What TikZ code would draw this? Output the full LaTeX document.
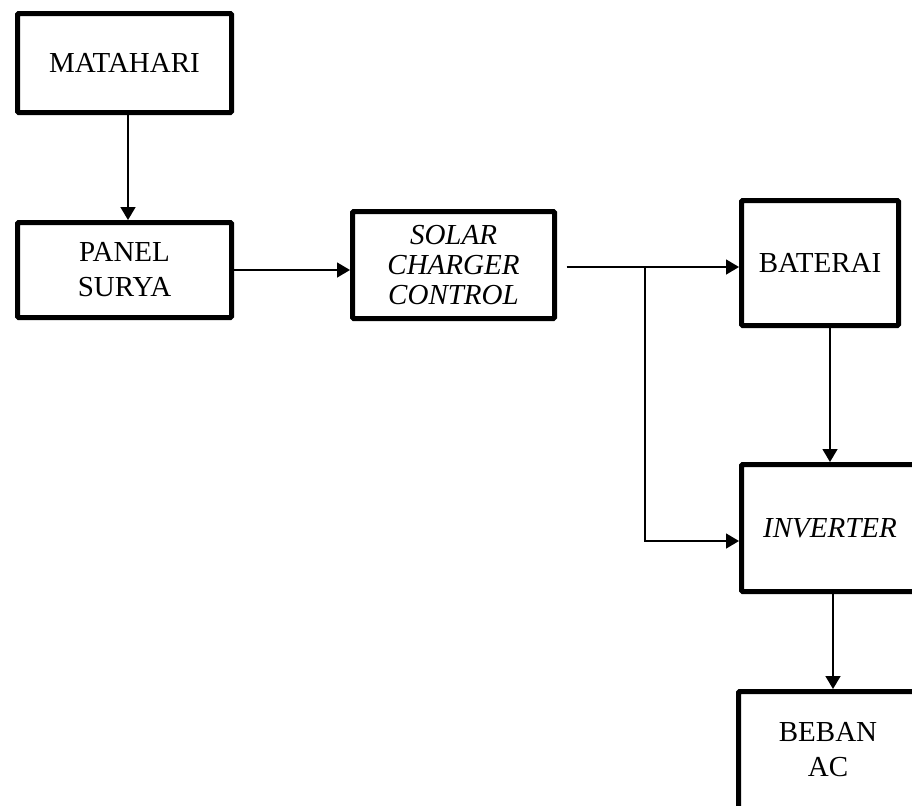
\documentclass[tikz,border=0pt]{standalone}
\usepackage{fontspec}
\setmainfont{Liberation Serif}
\usetikzlibrary{arrows.meta,positioning}

\begin{document}
\begin{tikzpicture}[x=0.5pt, y=-0.5pt,
      blok/.style={draw, line width=2.5pt, rounded corners=0.6pt, align=center,
                   inner sep=0pt, font=\fontsize{14.5}{17.5}\selectfont},
      arr/.style={-{Triangle[length=6.5pt, width=7.5pt]}, line width=0.75pt},
      lin/.style={line width=0.75pt}]
    \useasboundingbox (0,0) rectangle (912,805);
    \clip (0,0) rectangle (912,805);
    % left column
    \node[blok, minimum width=107pt, minimum height=49.5pt] (sun) at (124.5,63) {MATAHARI};
    \node[blok, minimum width=107pt, minimum height=47.5pt] (panel) at (124.5,270) {PANEL\\SURYA};
    \node[blok, minimum width=101pt, minimum height=53.5pt,
          font=\fontsize{14.5}{15}\selectfont\itshape] (scc) at (453.5,265)
      {SOLAR\\CHARGER\\CONTROL};
    % right column
    \node[blok, minimum width=78.5pt, minimum height=62.5pt] (bat) at (820,263) {BATERAI};
    \node[blok, minimum width=88.5pt, minimum height=63.5pt] (inv) at (830,528) {\itshape INVERTER};
    \node[blok, minimum width=89.5pt, minimum height=58.5pt] (load) at (828,750) {BEBAN\\AC};
    \coordinate (split) at (645,267);
    \draw[arr] ([xshift=1.75pt]sun.south) -- ([xshift=1.75pt]panel.north);
    \draw[arr] (panel.east) -- (panel.east -| scc.west);
    \draw[lin] ([xshift=4.75pt]scc.east |- split) -- (split);
    \draw[arr] (split) -- (split -| bat.west);
    \draw[arr] (split) |- ([yshift=-6.5pt]inv.west);
    \draw[arr] (inv.north |- bat.south) -- (inv.north);
    \draw[arr] ([xshift=1.5pt]inv.south) -- ([xshift=1.5pt]inv.south |- load.north);
\end{tikzpicture}
\end{document}
